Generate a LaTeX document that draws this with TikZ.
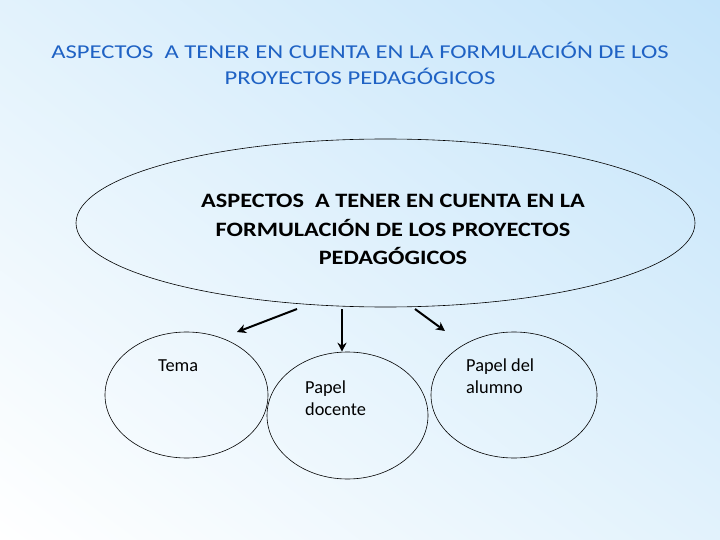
\documentclass[tikz,border=0pt]{standalone}
\usepackage{fontspec}
\setmainfont{Carlito}
\newfontfamily\titlefont[FakeStretch=1.255]{Carlito}
\newfontfamily\ellfont[FakeStretch=1.19]{Carlito}
\usetikzlibrary{shapes.geometric,arrows.meta,shadings}
\definecolor{bgblue}{HTML}{C4E4FA}
\definecolor{bgmid}{HTML}{E2F2FC}
\definecolor{titleblue}{HTML}{1F62C4}
\tikzset{
  bubble/.style={draw=black, line width=0.6bp, ellipse, inner sep=0pt},
  lbl/.style={font=\fontsize{18.4}{21.5}\selectfont, anchor=base west, align=left, inner sep=0pt},
  arr/.style={draw=black, line width=2bp, -{Stealth[length=9bp,width=9bp]}}
}
\begin{document}
\begin{tikzpicture}[x=1bp,y=-1bp]
\shade[upper right=bgblue, lower left=white, upper left=bgmid, lower right=bgmid] (0,0) rectangle (720,540);
\useasboundingbox (0,0) rectangle (720,540);
\node[text=titleblue, font=\titlefont\fontsize{19.7}{26.7}\selectfont, align=center, inner sep=0pt, anchor=base] (title) at (360,85) {ASPECTOS\ \ A TENER EN CUENTA EN LA FORMULACIÓN DE LOS\\PROYECTOS PEDAGÓGICOS};
\node[bubble, minimum width=619bp, minimum height=168bp] (main) at (385.5,223) {};
\node[font=\ellfont\bfseries\fontsize{20.5}{29}\selectfont, align=center, inner sep=0pt, anchor=base] (maintext) at (393,265) {ASPECTOS\ \ A TENER EN CUENTA EN LA\\FORMULACIÓN DE LOS PROYECTOS\\PEDAGÓGICOS};
\node[bubble, minimum width=163bp, minimum height=126bp] (tema) at (186.5,395) {};
\node[bubble, minimum width=161bp, minimum height=127bp] (docente) at (347.5,415.5) {};
\node[bubble, minimum width=166bp, minimum height=126bp] (alumno) at (514,395) {};
\node[lbl] (tematext) at (158,371) {Tema};
\node[lbl] (docentetext) at (305,415) {Papel\\docente};
\node[lbl] (alumnotext) at (466,393) {Papel del\\alumno};
\coordinate (a1s) at (297,309);
\coordinate (a1e) at (237,332);
\coordinate (a2s) at (342,309);
\coordinate (a3s) at (415,309);
\coordinate (a3e) at (445,331);
\draw[arr] (a1s) -- (a1e);
\draw[arr] (a2s) -- (docente.north -| a2s);
\draw[arr] (a3s) -- (a3e);
\end{tikzpicture}
\end{document}
